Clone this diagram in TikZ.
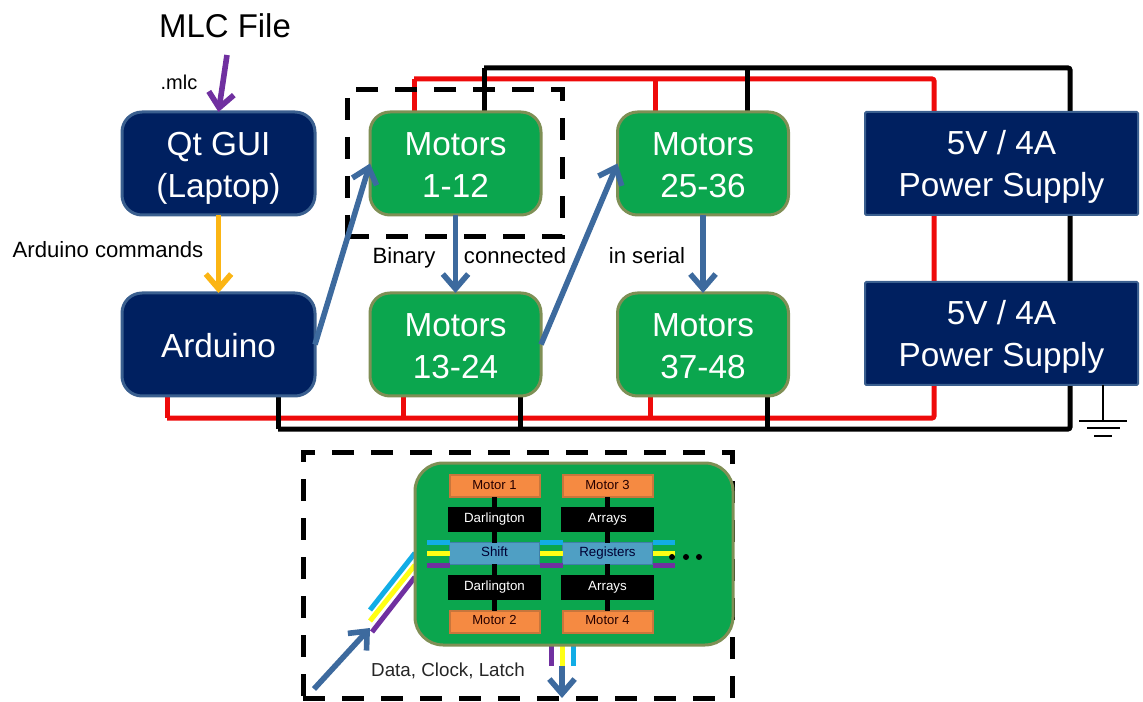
\documentclass[tikz,border=0pt]{standalone}
\usepackage{fontspec}
\setmainfont{Liberation Sans}
\usetikzlibrary{arrows.meta,calc}
\definecolor{navy}{HTML}{002060}
\definecolor{navyb}{HTML}{3A5F8F}
\definecolor{grn}{HTML}{0BA64E}
\definecolor{grnb}{HTML}{7F8F55}
\definecolor{flow}{HTML}{3D6A9E}
\definecolor{wirered}{HTML}{EE0A0A}
\definecolor{amber}{HTML}{FBB514}
\definecolor{purp}{HTML}{7030A0}
\definecolor{org}{HTML}{F58A42}
\definecolor{orgb}{HTML}{C8763C}
\definecolor{reg}{HTML}{4F9FC4}
\definecolor{regb}{HTML}{3F7FA8}
\definecolor{cyn}{HTML}{12ADE6}
\definecolor{yel}{HTML}{FFFF14}
\newcommand{\tfix}[1]{\rule{0pt}{#1}}
\newcommand{\sstrut}{\rule[-2.5pt]{0pt}{9.5pt}}
\tikzset{
  every node/.style={inner sep=0pt,outer sep=0pt,align=center},
  big/.style={font=\fontsize{25}{31.5}\selectfont,text=white},
  lab/.style={font=\fontsize{16.6}{20}\selectfont,text=black},
  ctrl/.style={big,fill=navy,draw=navyb,line width=2.25pt,rounded corners=15pt,minimum width=144.75pt,minimum height=77.25pt},
  motors/.style={big,fill=grn,draw=grnb,line width=2.25pt,rounded corners=15pt,minimum width=128.25pt,minimum height=77.25pt},
  supply/.style={big,fill=navy,draw=navyb,line width=1.5pt,rounded corners=1pt,minimum width=204.75pt,minimum height=77.25pt},
  redw/.style={draw=wirered,line width=3.75pt,rounded corners=1.5pt},
  blkw/.style={draw=black,line width=3.75pt,rounded corners=1.5pt},
  flowarrow/.style={draw=flow,line width=4.2pt,-{Straight Barb[length=11pt,width=19pt]}},
  frame/.style={draw=black,line width=3.75pt,dash pattern=on 16.5pt off 12.75pt},
  board/.style={fill=grn,draw=grnb,line width=2.25pt,rounded corners=21pt,minimum width=238.5pt,minimum height=136.5pt},
  mot/.style={fill=org,draw=orgb,line width=1.5pt,minimum width=67.5pt,minimum height=16.5pt,font=\fontsize{9.8}{12}\selectfont,text=black!85!red},
  drv/.style={fill=black,minimum width=69.75pt,minimum height=18.75pt,font=\fontsize{10}{12}\selectfont,text=white},
  sr/.style={fill=reg,draw=regb,line width=.75pt,minimum width=67.5pt,minimum height=16pt,font=\fontsize{10}{12}\selectfont,text=black!80!blue},
  sig/.style={line width=3.75pt},
  stem/.style={draw=black,line width=3.75pt},
  dot/.style={circle,fill=black,minimum size=4.5pt},
  thinw/.style={draw=black,line width=1.6pt},
}
\begin{document}
\begin{tikzpicture}[x=0.75pt,y=-0.75pt]
\useasboundingbox (0,0) rectangle (1143,702);
% wire way-points
\coordinate (rA) at (414,79);  \coordinate (rB) at (655,79);  \coordinate (rC) at (934,79);
\coordinate (kA) at (484,68);  \coordinate (kB) at (747,68);  \coordinate (kC) at (1070,68);
\coordinate (rD) at (167,418); \coordinate (rE) at (403,418); \coordinate (rF) at (650,418); \coordinate (rG) at (934,418);
\coordinate (kD) at (278,429); \coordinate (kE) at (520,429); \coordinate (kF) at (767,429); \coordinate (kG) at (1070,429);
\coordinate (gnd) at (1103,421);
\coordinate (g1a) at (1079,421); \coordinate (g1b) at (1127,421);
\coordinate (g2a) at (1087,428); \coordinate (g2b) at (1120,428);
\coordinate (g3a) at (1094,436); \coordinate (g3b) at (1112,436);
\coordinate (mlcin) at (227,55);
% wires behind nodes
\draw[redw] (rA) -- (rC) -- (rG) -- (rD);
\draw[blkw] (kA) -- (kC) -- (kG) -- (kD);
\draw[redw] (rA) -- ++(0,35);
\draw[redw] (rB) -- ++(0,35);
\draw[blkw] (kA) -- ++(0,46);
\draw[blkw] (kB) -- ++(0,46);
\draw[redw] (rD) -- ++(0,-24);
\draw[redw] (rE) -- ++(0,-24);
\draw[redw] (rF) -- ++(0,-24);
\draw[blkw] (kD) -- ++(0,-35);
\draw[blkw] (kE) -- ++(0,-35);
\draw[blkw] (kF) -- ++(0,-35);
% frames
\node[frame,minimum width=161.25pt,minimum height=110.25pt] (fA) at (454.5,163.5) {};
\node[frame,minimum width=321.75pt,minimum height=184.5pt] (fB) at (517.5,575) {};
% top nodes
\node[ctrl] (qt) at (218.5,163.5) {\tfix{25pt}Qt GUI\\(Laptop)};
\node[ctrl] (ard) at (218.5,344.5) {\tfix{19.5pt}Arduino};
\node[motors] (m1) at (455.5,163.5) {\tfix{20pt}Motors\\1-12};
\node[motors] (m13) at (455.5,344.5) {\tfix{20pt}Motors\\13-24};
\node[motors] (m25) at (703,163.5) {\tfix{20pt}Motors\\25-36};
\node[motors] (m37) at (703,344.5) {\tfix{20pt}Motors\\37-48};
\node[supply] (s1) at (1001.5,163.5) {\tfix{22.5pt}5V / 4A\\Power Supply};
\node[supply] (s2) at (1001.5,333.5) {\tfix{22.5pt}5V / 4A\\Power Supply};
% ground
\draw[thinw] (s2.south -| gnd) -- (gnd);
\draw[thinw] (g1a) -- (g1b);
\draw[thinw] (g2a) -- (g2b);
\draw[thinw] (g3a) -- (g3b);
% flow arrows
\draw[flowarrow,draw=purp] (mlcin) -- (qt.north);
\draw[flowarrow,draw=amber] (qt.south) -- (ard.north);
\draw[flowarrow] (ard.east) -- (m1.west);
\draw[flowarrow] (m1.south) -- (m13.north);
\draw[flowarrow] (m13.east) -- (m25.west);
\draw[flowarrow] (m25.south) -- (m37.north);
% labels
\node[font=\fontsize{24.7}{30}\selectfont] (tmlc) at (225,26) {MLC File};
\node[lab,font=\fontsize{15}{18}\selectfont] (text) at (179,82) {.mlc};
\node[lab] (tcmd) at (108,250) {Arduino commands};
\node[lab,anchor=base] (tbin) at (404,264) {Binary};
\node[lab,anchor=base] (tcon) at (515,264) {connected};
\node[lab,anchor=base] (tser) at (647,264) {in serial};
% board wires
\coordinate (cynA) at (370,610); \coordinate (yelA) at (370,621); \coordinate (purA) at (372,632);
\coordinate (cynB) at (415,553); \coordinate (yelB) at (415,565); \coordinate (purB) at (415,577);
\draw[sig,draw=cyn] (cynA) -- (cynB);
\draw[sig,draw=yel] (yelA) -- (yelB);
\draw[sig,draw=purp] (purA) -- (purB);
\coordinate (cynC) at (573,666); \coordinate (yelC) at (562,666); \coordinate (purC) at (551,666);
\draw[sig,draw=purp] (551,640) -- (purC);
\draw[sig,draw=yel] (562,640) -- (yelC);
\draw[sig,draw=cyn] (573,640) -- (cynC);
% board
\node[board] (bd) at (574,554) {};
\node[mot] (a1) at (494.5,486) {\sstrut Motor 1};
\node[mot] (a3) at (607.5,486) {\sstrut Motor 3};
\node[drv] (d1) at (494.5,519.5) {\sstrut Darlington};
\node[drv] (d3) at (607.5,519.5) {\sstrut Arrays};
\node[sr] (r1) at (494.5,553.5) {\sstrut Shift};
\node[sr] (r3) at (607.5,553.5) {\sstrut Registers};
\node[drv] (d2) at (494.5,587.5) {\sstrut Darlington};
\node[drv] (d4) at (607.5,587.5) {\sstrut Arrays};
\node[mot] (a2) at (494.5,621.5) {\sstrut Motor 2};
\node[mot] (a4) at (607.5,621.5) {\sstrut Motor 4};
\foreach \u/\v in {a1/d1,d1/r1,r1/d2,d2/a2,a3/d3,d3/r3,r3/d4,d4/a4}
  \draw[stem] (\u.south) -- (\v.north);
% signal stubs
\foreach \xa/\xb in {427/450,540/563,653/675}{
  \draw[sig,draw=cyn] (\xa,542) -- (\xb,542);
  \draw[sig,draw=yel] (\xa,553.5) -- (\xb,553.5);
  \draw[sig,draw=purp] (\xa,565) -- (\xb,565);
}
\node[dot] (p1) at (672,557) {};
\node[dot] (p2) at (686,557) {};
\node[dot] (p3) at (699,557) {};
% board arrows and label
\coordinate (inS) at (314,689); \coordinate (inT) at (370,628);
\draw[flowarrow] (inS) -- (inT);
\coordinate (outT) at (562,698);
\draw[flowarrow] (yelC) -- (outT);
\node[font=\fontsize{14.1}{17}\selectfont,text=black!85] (tdcl) at (448,671) {Data, Clock, Latch};
\end{tikzpicture}
\end{document}
